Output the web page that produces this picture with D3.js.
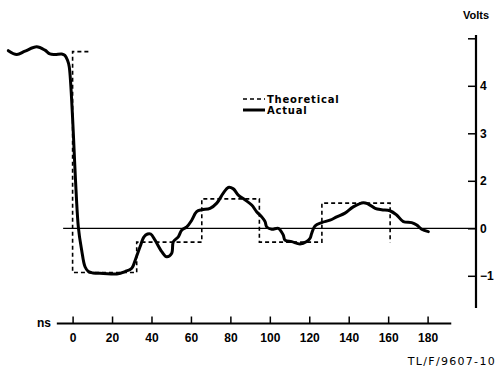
<!DOCTYPE html>
<html>
<head>
<meta charset="utf-8">
<script src="https://cdn.jsdelivr.net/npm/d3@7"></script>
<style>
  html, body { margin: 0; padding: 0; background: #fff; }
  svg { display: block; }
  text { font-family: "Liberation Sans", Arial, sans-serif; font-weight: bold; fill: #000; }
</style>
</head>
<body>
<script>
// ---- data ----
const xTickValues = [0, 20, 40, 60, 80, 100, 120, 140, 160, 180];
const yTickValues = [4, 3, 2, 1, 0, -1];
const yTickLabels = ["", "4", "3", "2", "0", "\u22121"];
const seriesNames = ["Theoretical", "Actual"];

// theoretical step waveform vertices [ns, V]
const theoNs = [8, 0, 0, 32.5, 32.5, 65.5, 65.5, 94.7, 94.7, 126.4, 126.4, 161, 161];
const theoV  = [3.72, 3.72, -0.93, -0.93, -0.29, -0.29, 0.62, 0.62, -0.29, -0.29, 0.53, 0.53, -0.30];

// actual measured waveform [ns, V]
const actualNs = [-32.6, -28.3, -24.1, -18.2, -14.0, -11.5, -8.9, -5.5, -3.9, -2.6, -1.7,
  2.9, 4.6, 6.3, 8.0, 10.3, 15.6, 22.4, 26.6, 30.0, 32.1, 34.2, 36.2, 38.0, 39.6, 41.8,
  45.2, 47.7, 50.2, 51.1, 53.6, 55.3, 57.9, 60.4, 62.9, 65.5, 69.7, 73.1, 76.4, 78.9,
  81.5, 84.0, 87.4, 90.8, 93.3, 95.9, 97.6, 98.4, 101.0, 104.3, 106.8, 107.7, 111.1,
  115.3, 118.7, 120.4, 121.2, 122.9, 126.3, 130.5, 133.9, 138.1, 142.3, 147.4, 149.9,
  153.4, 156.7, 160.9, 164.3, 167.7, 171.9, 174.5, 177.0, 180.4];
const actualV = [3.74, 3.66, 3.73, 3.82, 3.75, 3.67, 3.66, 3.67, 3.64, 3.54, 3.40,
  0.03, -0.46, -0.81, -0.91, -0.94, -0.95, -0.96, -0.91, -0.84, -0.63, -0.39, -0.18, -0.12, -0.12, -0.25,
  -0.49, -0.60, -0.53, -0.28, -0.18, -0.04, 0.03, 0.17, 0.35, 0.39, 0.42, 0.53, 0.74, 0.86,
  0.83, 0.70, 0.60, 0.49, 0.35, 0.24, 0.14, 0.03, -0.02, 0.00, -0.14, -0.25, -0.28,
  -0.33, -0.28, -0.21, -0.11, 0.05, 0.12, 0.17, 0.24, 0.32, 0.45, 0.54, 0.51,
  0.42, 0.39, 0.37, 0.28, 0.14, 0.12, 0.07, -0.02, -0.07];

// ---- layout ----
const W = 497, H = 369;
const svg = d3.select("body").append("svg").attr("width", W).attr("height", H);

const x = d3.scaleLinear().domain([0, 180]).range([72.6, 427.6]);
const y = d3.scaleLinear().domain([0, 1]).range([228.3, 180.8]);
const xAxisY = 323.5;
const yAxisX = 476;

// zero reference line
svg.append("line")
  .attr("x1", x(-4.8)).attr("x2", yAxisX)
  .attr("y1", y(0)).attr("y2", y(0))
  .attr("stroke", "#000").attr("stroke-width", 1.3);

// theoretical
const theo = theoNs.map((d, i) => [d, theoV[i]]);
const line = d3.line().x(d => x(d[0])).y(d => y(d[1]));
svg.append("path").datum(theo)
  .attr("d", line)
  .attr("fill", "none").attr("stroke", "#000")
  .attr("stroke-width", 1.6).attr("stroke-dasharray", "4,3");

// actual
const act = actualNs.map((d, i) => [d, actualV[i]]);
const smooth = d3.line().x(d => x(d[0])).y(d => y(d[1])).curve(d3.curveCatmullRom.alpha(0.5));
svg.append("path").datum(act)
  .attr("d", smooth)
  .attr("fill", "none").attr("stroke", "#000")
  .attr("stroke-width", 3).attr("stroke-linejoin", "round").attr("stroke-linecap", "round");

// right axis
const yAxis = d3.axisRight(y).tickValues(yTickValues)
  .tickFormat((d, i) => yTickLabels[i]).tickSizeInner(-8).tickSizeOuter(0).tickPadding(4);
const gy = svg.append("g").attr("transform", `translate(${yAxisX},0)`).call(yAxis);
gy.select(".domain").remove();
gy.selectAll(".tick line").attr("stroke-width", 1.5);
gy.selectAll(".tick text").style("font-size", "12px").style("font-family", "Liberation Sans, Arial, sans-serif").style("font-weight", "bold");
svg.append("line").attr("x1", yAxisX).attr("x2", yAxisX).attr("y1", 35).attr("y2", 308)
  .attr("stroke", "#000").attr("stroke-width", 2.2);
svg.append("text").attr("x", 463).attr("y", 19).style("font-size", "11px").text("Volts");

// bottom axis
const xAxis = d3.axisBottom(x).tickValues(xTickValues).tickSizeInner(-7).tickSizeOuter(0).tickPadding(10);
const gx = svg.append("g").attr("transform", `translate(0,${xAxisY})`).call(xAxis);
gx.select(".domain").remove();
gx.selectAll(".tick line").attr("stroke-width", 1.5);
gx.selectAll(".tick text").style("font-size", "12px").style("font-family", "Liberation Sans, Arial, sans-serif").style("font-weight", "bold");
svg.append("line").attr("x1", x(-8)).attr("x2", x(192)).attr("y1", xAxisY).attr("y2", xAxisY)
  .attr("stroke", "#000").attr("stroke-width", 2);
svg.append("text").attr("x", 37).attr("y", 327).style("font-size", "12px").text("ns");

// footer id
svg.append("text").attr("x", 496).attr("y", 365).attr("text-anchor", "end")
  .style("font-size", "11px").style("font-weight", "normal")
  .style("font-family", "DejaVu Sans, sans-serif").style("letter-spacing", "1.3px").text("TL/F/9607-10");

// legend
const lg = svg.append("g");
lg.append("line").attr("x1", 243).attr("x2", 265).attr("y1", 99).attr("y2", 99)
  .attr("stroke", "#000").attr("stroke-width", 1.5).attr("stroke-dasharray", "4,3");
lg.append("text").attr("x", 267).attr("y", 102.5).style("font-size", "10px")
  .style("font-family", "DejaVu Sans, sans-serif").style("letter-spacing", "0.8px").text(seriesNames[0]);
lg.append("line").attr("x1", 243).attr("x2", 265).attr("y1", 110).attr("y2", 110)
  .attr("stroke", "#000").attr("stroke-width", 3);
lg.append("text").attr("x", 267).attr("y", 114).style("font-size", "10px")
  .style("font-family", "DejaVu Sans, sans-serif").style("letter-spacing", "0.8px").text(seriesNames[1]);
</script>
</body>
</html>
